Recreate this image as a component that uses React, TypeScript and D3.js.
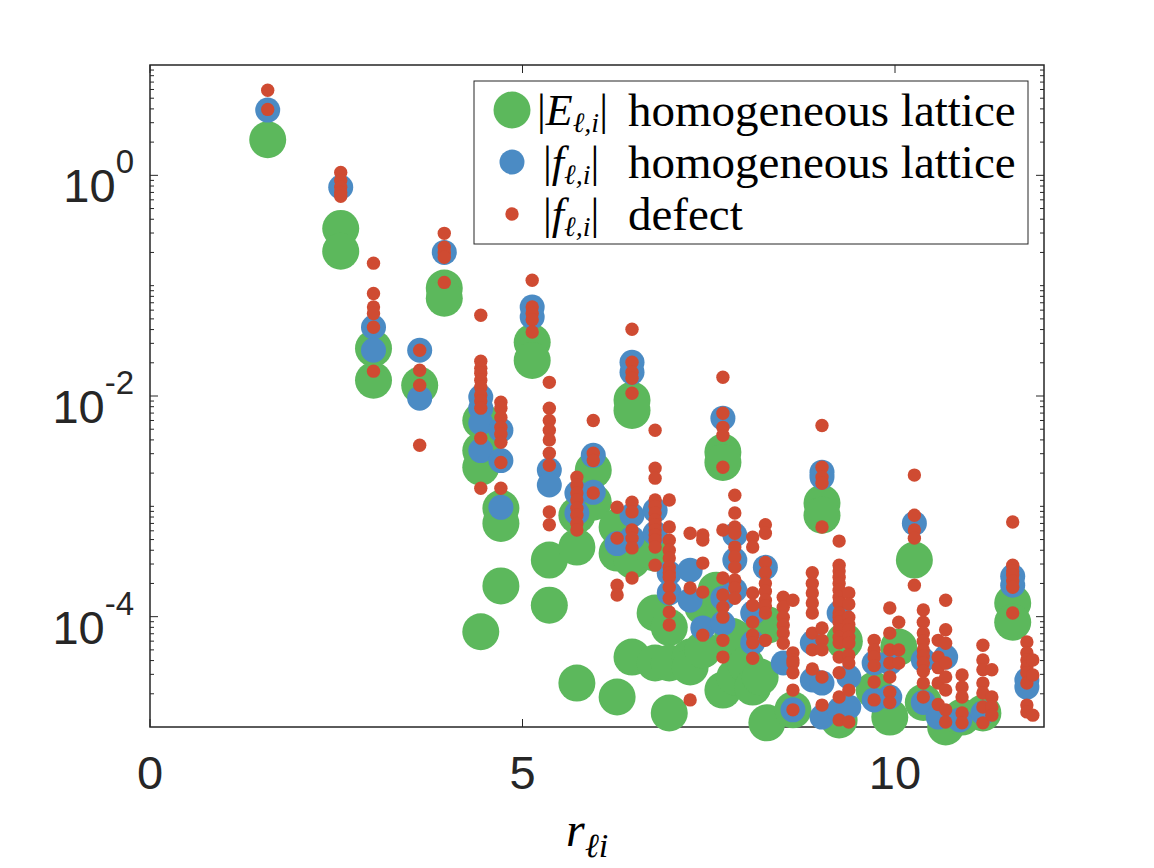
import React from 'react';
import * as d3 from 'd3';

// each entry: [r, [values at that r]]
type Col = [number, number[]];

const greenCols: Col[] = [
  [1.58, [2.1]],
  [2.56, [0.33, 0.205]],
  [3.0, [2.7e-2, 1.39e-2]],
  [3.62, [1.25e-2]],
  [3.95, [9.5e-2, 7.7e-2]],
  [4.44, [6.0e-3, 3.2e-3, 2.26e-3, 7.3e-5]],
  [4.71, [9.6e-4, 7.0e-4, 1.9e-4]],
  [5.13, [3.07e-2, 2.1e-2]],
  [5.36, [3.26e-4, 1.27e-4]],
  [5.73, [8.3e-4, 4.27e-4, 2.5e-5]],
  [5.95, [2.13e-3, 1.09e-3]],
  [6.27, [6.5e-4, 3.77e-4, 1.87e-5]],
  [6.47, [9.2e-3, 7.4e-3, 3.26e-4, 4.3e-5]],
  [6.78, [3.77e-4, 1.08e-4, 3.8e-5]],
  [6.97, [8.0e-5, 3.8e-5, 1.34e-5]],
  [7.25, [4.3e-5, 3.5e-5]],
  [7.42, [1.23e-4, 5.0e-5]],
  [7.6, [1.74e-4]],
  [7.69, [3.1e-3, 2.5e-3, 2.16e-5]],
  [7.82, [6.6e-5]],
  [7.85, [5.0e-5, 2.84e-5]],
  [7.92, [6.1e-5]],
  [8.0, [3.65e-5]],
  [8.09, [2.3e-5]],
  [8.19, [2.84e-5]],
  [8.3, [8.4e-5]],
  [8.28, [1.09e-5]],
  [8.63, [1.43e-5]],
  [9.02, [1.07e-3, 8.3e-4]],
  [9.25, [1.16e-5]],
  [9.32, [6.0e-5]],
  [9.72, [2.16e-5]],
  [10.05, [5.3e-5]],
  [9.93, [1.23e-5]],
  [10.26, [3.26e-4]],
  [10.38, [1.67e-5]],
  [10.68, [1.0e-5]],
  [10.9, [1.23e-5]],
  [11.18, [1.34e-5]],
  [11.58, [1.33e-4, 8.9e-5]],
];

const blueCols: Col[] = [
  [1.58, [3.9]],
  [2.56, [0.78]],
  [3.0, [4.2e-2, 2.6e-2]],
  [3.62, [2.6e-2, 9.55e-3]],
  [3.95, [0.2]],
  [4.44, [9.8e-3, 7.76e-3, 5.7e-3, 3.2e-3]],
  [4.71, [4.9e-3, 2.6e-3, 9.8e-4]],
  [5.13, [6.4e-2, 5.2e-2]],
  [5.36, [2.13e-3, 1.56e-3]],
  [5.73, [1.32e-3, 8.7e-4]],
  [5.95, [2.9e-3, 1.34e-3]],
  [6.27, [4.6e-4]],
  [6.47, [2.02e-2, 1.64e-2, 8.3e-4, 5.15e-4]],
  [6.78, [9.2e-4, 5.7e-4]],
  [6.97, [2.48e-4, 1.64e-4]],
  [7.25, [2.64e-4, 1.41e-4]],
  [7.42, [7.9e-5]],
  [7.69, [6.3e-3, 1.47e-4, 8.7e-5]],
  [7.85, [5.5e-4, 3.26e-4, 1.74e-4]],
  [8.09, [1.08e-4, 5.8e-5]],
  [8.26, [2.8e-4]],
  [8.5, [3.8e-5]],
  [8.63, [1.43e-5]],
  [8.89, [5.8e-5, 2.67e-5]],
  [9.02, [2.04e-3, 1.84e-3, 2.5e-5, 1.23e-5]],
  [9.25, [1.08e-4, 1.43e-5]],
  [9.38, [2.84e-5, 1.52e-5]],
  [9.72, [3.8e-5, 1.76e-5]],
  [9.93, [3.8e-5, 1.87e-5]],
  [10.26, [7.0e-4]],
  [10.38, [4.05e-5, 1.67e-5]],
  [10.58, [1.23e-5]],
  [10.68, [4.3e-5]],
  [10.87, [1.16e-5]],
  [11.18, [1.34e-5]],
  [11.58, [2.32e-4, 1.93e-4]],
  [11.77, [2.67e-5, 2.3e-5]],
];

const redCols: Col[] = [
  [1.58, [5.9, 3.96]],
  [2.56, [1.06, 0.9, 0.78, 0.7, 0.645]],
  [3.0, [0.16, 8.5e-2, 6.4e-2, 5.6e-2, 4.2e-2, 1.68e-2]],
  [3.62, [2.6e-2, 1.71e-2, 1.25e-2, 3.58e-3]],
  [3.95, [0.298, 0.223, 0.2, 0.181, 0.107]],
  [4.44, [5.4e-2, 2.07e-2, 1.78e-2, 1.61e-2, 1.39e-2, 1.2e-2, 1.02e-2, 9.0e-3, 7.76e-3, 4.15e-3, 1.46e-3]],
  [4.71, [8.8e-3, 7.76e-3, 6.4e-3, 5.2e-3, 4.5e-3, 3.8e-3, 2.5e-3, 1.46e-3]],
  [5.13, [0.112, 6.4e-2, 5.6e-2, 4.9e-2, 3.8e-2]],
  [5.36, [1.33e-2, 7.76e-3, 6.0e-3, 4.9e-3, 4.0e-3, 3.03e-3, 2.36e-3, 8.9e-4, 6.8e-4]],
  [5.73, [1.84e-3, 1.56e-3, 1.32e-3, 1.14e-3, 9.6e-4, 8.3e-4, 7.0e-4, 6.1e-4]],
  [5.95, [6.0e-3, 3.03e-3, 2.6e-3, 1.32e-3]],
  [6.27, [9.8e-4, 5.15e-4, 1.93e-4, 1.57e-4]],
  [6.47, [4.03e-2, 2.02e-2, 1.64e-2, 1.45e-2, 1.06e-2, 1.09e-3, 8.9e-4, 6.1e-4, 5.15e-4, 4.2e-4, 2.24e-4]],
  [6.78, [4.9e-3, 2.22e-3, 1.8e-3, 1.14e-3, 1.0e-3, 8.7e-4, 7.5e-4, 6.8e-4, 6.1e-4, 5.5e-4, 4.94e-4, 4.27e-4, 2.93e-4]],
  [6.97, [1.14e-3, 6.5e-4, 4.94e-4, 4.0e-4, 3.4e-4, 2.8e-4, 2.5e-4, 2.28e-4, 1.85e-4, 1.47e-4, 1.1e-4, 8.4e-5]],
  [7.25, [5.7e-4, 1.82e-4, 1.76e-5]],
  [7.42, [5.5e-4, 4.94e-4, 3.06e-4, 1.67e-4, 6.8e-5]],
  [7.69, [1.48e-2, 6.98e-3, 5.2e-3, 4.4e-3, 2.26e-3, 6.1e-4, 2.24e-4, 1.57e-4, 1.22e-4, 9.9e-5, 6.1e-5, 4.3e-5]],
  [7.85, [1.26e-3, 8.7e-4, 6.5e-4, 5.7e-4, 4.27e-4, 3.47e-4, 2.8e-4, 2.15e-4, 1.82e-4, 1.47e-4]],
  [8.09, [5.26e-4, 4.27e-4, 1.64e-4, 1.27e-4, 8.9e-5, 6.8e-5, 5.8e-5, 4.2e-5]],
  [8.26, [6.8e-4, 5.7e-4, 3.1e-4, 2.5e-4, 2.0e-4, 1.7e-4, 1.41e-4, 1.25e-4, 1.08e-4, 6.1e-5]],
  [8.5, [1.5e-4, 1.22e-4, 9.9e-5, 8.4e-5, 7.1e-5, 5.75e-5]],
  [8.63, [1.41e-4, 4.7e-5, 4.05e-5, 3.8e-5, 3.1e-5, 2.16e-5, 1.43e-5]],
  [8.89, [2.5e-4, 2.0e-4, 1.64e-4, 1.33e-4, 1.08e-4, 7.1e-5, 5.0e-5, 3.35e-5]],
  [9.02, [5.4e-3, 2.26e-3, 1.84e-3, 1.62e-3, 6.5e-4, 7.9e-5, 6.1e-5, 5.0e-5, 2.84e-5, 1.58e-5]],
  [9.25, [4.84e-4, 2.93e-4, 2.6e-4, 2.28e-4, 2.0e-4, 1.74e-4, 1.5e-4, 1.33e-4, 1.08e-4, 9.9e-5, 8.9e-5, 7.6e-5, 6.5e-5, 5.8e-5, 4.3e-5, 3.1e-5, 1.87e-5, 1.16e-5]],
  [9.38, [1.64e-4, 1.3e-4, 9.9e-5, 8.5e-5, 7.6e-5, 6.5e-5, 5.75e-5, 4.5e-5, 3.8e-5, 2.16e-5, 1.11e-5]],
  [9.72, [6.1e-5, 5.0e-5, 4.3e-5, 3.6e-5, 2.56e-5, 1.76e-5]],
  [9.93, [1.2e-4, 7.1e-5, 5.0e-5, 3.8e-5, 2.84e-5, 2.07e-5, 1.67e-5]],
  [10.05, [8.9e-5, 5.0e-5, 3.8e-5]],
  [10.26, [1.92e-3, 8.3e-4, 6.1e-4, 5.15e-4, 1.93e-4]],
  [10.38, [1.15e-4, 8.9e-5, 7.1e-5, 6.0e-5, 5.0e-5, 4.4e-5, 3.8e-5, 3.2e-5, 2.5e-5, 1.87e-5]],
  [10.58, [6.1e-5, 4.3e-5, 3.45e-5, 2.5e-5, 1.6e-5]],
  [10.68, [1.41e-4, 7.6e-5, 5.75e-5, 3.8e-5, 2.84e-5, 2.16e-5, 1.43e-5, 1.11e-5]],
  [10.9, [2.96e-5, 2.3e-5, 1.87e-5, 1.34e-5, 1.09e-5]],
  [11.18, [5.5e-5, 4.05e-5, 3.3e-5, 2.5e-5, 2.03e-5, 1.52e-5, 1.09e-5]],
  [11.3, [3.3e-5, 1.87e-5, 1.52e-5, 1.28e-5]],
  [11.58, [7.2e-4, 2.93e-4, 2.6e-4, 2.38e-4, 2.1e-4, 1.85e-4, 1.08e-4]],
  [11.77, [5.9e-5, 4.7e-5, 4.05e-5, 3.5e-5, 3.1e-5, 2.5e-5, 1.58e-5, 1.37e-5]],
  [11.85, [4.05e-5, 2.96e-5, 1.28e-5]],
];

const xTicks = [0, 5, 10];
const yTickExps = [0, -2, -4];

const GREEN = '#5cb85c';
const BLUE = '#4b8bc4';
const RED = '#cf4b32';
const AXIS = '#262626';

const flat = (cols: Col[]) => cols.flatMap(([r, vs]) => vs.map((v) => [r, v] as [number, number]));

export default function App() {
  const W = 1154;
  const H = 868;
  const x = d3.scaleLinear().domain([0, 12]).range([150, 1044]);
  const y = d3.scaleLog().domain([1e-5, 10]).range([727, 65]);
  const [x0, x1] = x.range();
  const [yb, yt] = y.range();

  // log ticks: majors are the labelled decades, everything else short
  const minorVals: number[] = [];
  for (let e = -5; e <= 0; e++) {
    for (let k = 1; k <= 9; k++) {
      const v = k * Math.pow(10, e);
      if (k === 1 && yTickExps.includes(e)) continue;
      if (v <= 1e-5 || v >= 10) continue;
      minorVals.push(v);
    }
  }

  const serif = 'Liberation Serif, Times New Roman, serif';
  const sans = 'Liberation Sans, Arial, Helvetica, sans-serif';

  const legendRows = [
    { color: GREEN, r: 18.5, sym: 'E', desc: 'homogeneous lattice' },
    { color: BLUE, r: 12.5, sym: 'f', desc: 'homogeneous lattice' },
    { color: RED, r: 6.7, sym: 'f', desc: 'defect' },
  ];

  return (
    <svg width={W} height={H} style={{ position: 'absolute', left: 0, top: 0, background: '#fff' }}>
      <rect x={0} y={0} width={W} height={H} fill="#fff" />

      {/* ticks */}
      <g stroke={AXIS} strokeWidth={1}>
        {xTicks.map((t) => (
          <g key={'xt' + t}>
            <line x1={x(t)} x2={x(t)} y1={yb} y2={yb - 8} />
            <line x1={x(t)} x2={x(t)} y1={yt} y2={yt + 8} />
          </g>
        ))}
        {yTickExps.map((e) => (
          <g key={'yt' + e}>
            <line x1={x0} x2={x0 + 8} y1={y(Math.pow(10, e))} y2={y(Math.pow(10, e))} />
            <line x1={x1} x2={x1 - 8} y1={y(Math.pow(10, e))} y2={y(Math.pow(10, e))} />
          </g>
        ))}
        {minorVals.map((v, i) => (
          <g key={'ym' + i}>
            <line x1={x0} x2={x0 + 4} y1={y(v)} y2={y(v)} />
            <line x1={x1} x2={x1 - 4} y1={y(v)} y2={y(v)} />
          </g>
        ))}
      </g>
      <rect x={x0} y={yt} width={x1 - x0} height={yb - yt} fill="none" stroke={AXIS} strokeWidth={1.5} />

      {/* points */}
      <g fill={GREEN}>
        {flat(greenCols).map(([r, v], i) => (
          <circle key={'g' + i} cx={x(r)} cy={y(v)} r={18.5} />
        ))}
      </g>
      <g fill={BLUE}>
        {flat(blueCols).map(([r, v], i) => (
          <circle key={'b' + i} cx={x(r)} cy={y(v)} r={12.5} />
        ))}
      </g>
      <g fill={RED}>
        {flat(redCols).map(([r, v], i) => (
          <circle key={'r' + i} cx={x(r)} cy={y(v)} r={6.7} />
        ))}
      </g>

      {/* tick labels */}
      <g fill={AXIS} fontFamily={sans} fontSize={47}>
        {xTicks.map((t) => (
          <text key={'xl' + t} x={x(t)} y={789} textAnchor="middle">{t}</text>
        ))}
        {yTickExps.map((e) => (
          <text key={'yl' + e} x={134} y={y(Math.pow(10, e)) + 27} textAnchor="end">
            10<tspan fontSize={33} dy={-29}>{e}</tspan>
          </text>
        ))}
      </g>

      {/* x label */}
      <text x={566} y={846} fontFamily={serif} fontSize={48} fontStyle="italic" fill="#000">
        r<tspan fontSize={34} dy={11}>ℓi</tspan>
      </text>

      {/* legend */}
      <rect x={474} y={81} width={554} height={163} fill="#fff" stroke={AXIS} strokeWidth={1} />
      {legendRows.map((row, i) => {
        const cy = 110 + i * 52;
        return (
          <g key={'lg' + i}>
            <circle cx={512} cy={cy} r={row.r} fill={row.color} />
            <text x={row.sym === 'E' ? 537 : 543} y={cy + 15} fontFamily={serif} fontSize={44} fill="#000">
              |<tspan fontStyle="italic">{row.sym}</tspan>
              <tspan fontSize={28} dy={7} fontStyle="italic">ℓ,i</tspan>
              <tspan dy={-7}>|</tspan>
            </text>
            <text x={628} y={cy + 16} fontFamily={serif} fontSize={47} fill="#000">{row.desc}</text>
          </g>
        );
      })}
    </svg>
  );
}
